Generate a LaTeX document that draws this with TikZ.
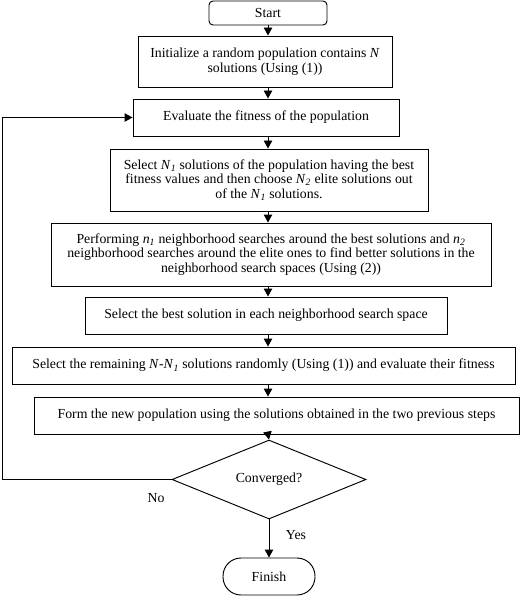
\documentclass[tikz,border=0pt]{standalone}
\usepackage{fontspec}
\setmainfont{Liberation Serif}
\usetikzlibrary{shapes.geometric,arrows.meta}
\newcommand{\Nsub}[2]{\textit{#1}\textsubscript{\textit{#2}}}
\begin{document}
\begin{tikzpicture}[x=1pt,y=-1pt,
  every node/.style={font=\fontsize{13.8}{14.6}\selectfont},
  boxstyle/.style={draw,line width=0.95pt,rectangle,inner sep=0pt,align=center},
  termstyle/.style={draw,line width=0.95pt,rectangle,inner sep=0pt},
  decstyle/.style={draw,line width=0.95pt,diamond,inner sep=0pt,minimum width=194pt,minimum height=65pt},
  arr/.style={line width=0.95pt,-{Triangle[length=8pt,width=8.5pt]}},
  lbl/.style={inner sep=0pt}]
\useasboundingbox (0,0) rectangle (520,596);
\coordinate (ax) at (268,0);
\coordinate (lx) at (2,0);
\node[termstyle,rounded corners=4pt,minimum width=118pt,minimum height=24pt] (start) at (268,13) {Start};
\node[boxstyle,minimum width=254pt,minimum height=51pt] (init) at (265,61.5) {Initialize a random population contains \textit{N}\\solutions (Using (1))};
\node[boxstyle,minimum width=266pt,minimum height=37pt] (eval) at (266,117.5) {Evaluate the fitness of the population};
\node[boxstyle,minimum width=318pt,minimum height=62pt] (sel) at (269,180) {Select \Nsub{N}{1} solutions of the population having the best\\fitness values and then choose \Nsub{N}{2} elite solutions out\\of the \Nsub{N}{1} solutions.};
\node[boxstyle,minimum width=440pt,minimum height=63pt] (perf) at (271,254.5) {Performing \Nsub{n}{1} neighborhood searches around the best solutions and \Nsub{n}{2}\\neighborhood searches around the elite ones to find better solutions in the\\neighborhood search spaces (Using (2))};
\node[boxstyle,minimum width=362pt,minimum height=37pt] (best) at (266,315.5) {Select the best solution in each neighborhood search space};
\node[boxstyle,minimum width=503pt,minimum height=37pt] (rem) at (263.5,365.5) {Select the remaining \textit{N}-\Nsub{N}{1} solutions randomly (Using (1)) and evaluate their fitness};
\node[boxstyle,minimum width=485pt,minimum height=37pt] (form) at (276.5,415.5) {Form the new population using the solutions obtained in the two previous steps};
\node[decstyle] (dec) at (269,479.5) {Converged?};
\node[termstyle,rounded corners=18pt,minimum width=92pt,minimum height=37pt] (fin) at (269,576.5) {Finish};
\draw[arr] (start.south -| ax) -- (init.north -| ax);
\draw[arr] (init.south -| ax) -- (eval.north -| ax);
\draw[arr] (eval.south -| ax) -- (sel.north -| ax);
\draw[arr] (sel.south -| ax) -- (perf.north -| ax);
\draw[arr] (perf.south -| ax) -- (best.north -| ax);
\draw[arr] (best.south -| ax) -- (rem.north -| ax);
\draw[arr] (rem.south -| ax) -- (form.north -| ax);
\draw[arr] (form.south -| ax) -- (dec.north);
\draw[arr] (dec.south) -- (fin.north);
\draw[arr] (dec.west) -- (dec.west -| lx) |- (eval.west);
\node[lbl] (no) at (156,498) {No};
\node[lbl] (yes) at (296,535) {Yes};
\end{tikzpicture}
\end{document}
